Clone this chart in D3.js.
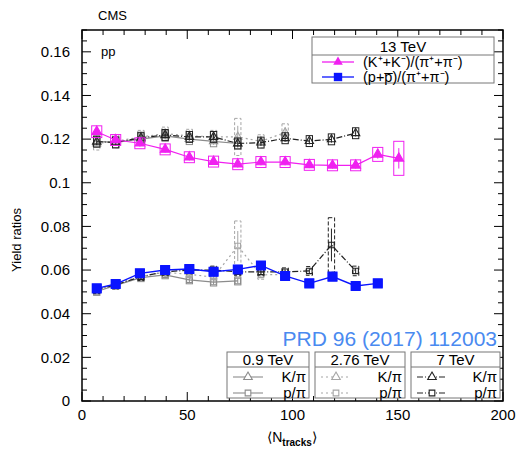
<!DOCTYPE html>
<html>
<head>
<meta charset="utf-8">
<script src="https://cdn.jsdelivr.net/npm/d3@7"></script>
<style>
  html, body { margin: 0; padding: 0; background: #fff; }
  svg { display: block; font-family: "Liberation Sans", Arial, sans-serif; }
</style>
</head>
<body>
<svg id="chart" width="520" height="450"></svg>
<script>
// ---- data -------------------------------------------------------------
// 13 TeV
const n13 = [7, 16, 27.5, 39.5, 51, 62.5, 74, 85, 96.5, 108, 119, 130, 140.5, 150.5];
const kpi13 = [0.1234, 0.1196, 0.1181, 0.1153, 0.1117, 0.1097, 0.1085, 0.1095, 0.1095, 0.1082, 0.1080, 0.1080, 0.1130, 0.1112];
const kpi13Sys = [0.0027, 0.0025, 0.0025, 0.0025, 0.0025, 0.0025, 0.0025, 0.0025, 0.0025, 0.0025, 0.0025, 0.0025, 0.0032, 0.0078];
const ppi13N = [7, 16, 27.5, 39.5, 51, 62.5, 74, 85, 96.5, 108, 119, 130, 140.5];
const ppi13 = [0.0516, 0.0536, 0.0585, 0.0600, 0.0605, 0.0592, 0.0603, 0.0621, 0.0573, 0.0539, 0.0570, 0.0527, 0.0539];

// 0.9 TeV
const n09 = [7, 16, 28, 39.5, 51, 62.5, 74];
const kpi09 = [0.1190, 0.1185, 0.1200, 0.1215, 0.1200, 0.1190, 0.1180];
const ppi09 = [0.0502, 0.0530, 0.0565, 0.0578, 0.0555, 0.0545, 0.0550];

// 2.76 TeV
const n276 = [7, 16, 28, 39.5, 51, 62.5, 74, 85, 96.5];
const kpi276 = [0.1180, 0.1190, 0.1210, 0.1225, 0.1215, 0.1210, 0.1210, 0.1190, 0.1230];
const kpi276Sys = [0.003, 0.003, 0.003, 0.003, 0.003, 0.003, 0.0085, 0.003, 0.004];
const ppi276 = [0.0510, 0.0538, 0.0572, 0.0590, 0.0580, 0.0568, 0.0710, 0.0578, 0.0580];
const ppi276Sys = [0.0018, 0.0018, 0.0018, 0.0018, 0.0018, 0.0018, 0.0115, 0.0020, 0.0020];

// 7 TeV
const n7 = [7, 16, 28, 39.5, 51, 62.5, 74, 85, 96.5, 108, 118.5, 130];
const kpi7 = [0.1188, 0.1185, 0.1206, 0.1219, 0.1210, 0.1210, 0.1180, 0.1184, 0.1204, 0.1191, 0.1199, 0.1227];
const ppi7 = [0.0510, 0.0532, 0.0570, 0.0592, 0.0600, 0.0600, 0.0592, 0.0592, 0.0592, 0.0596, 0.0715, 0.0596];
const ppi7Sys = [0.0018, 0.0018, 0.0018, 0.0018, 0.0018, 0.0018, 0.0018, 0.0018, 0.0018, 0.0020, 0.0125, 0.0022];

// axes
const xTicks = [0, 50, 100, 150, 200];
const yTicks = [0, 0.02, 0.04, 0.06, 0.08, 0.1, 0.12, 0.14, 0.16];

// ---- layout -----------------------------------------------------------
const svg = d3.select("#chart");
const pLeft = 82, pRight = 503, pTop = 30, pBottom = 401;
const x = d3.scaleLinear().domain([0, 200]).range([pLeft, pRight]);
const y = d3.scaleLinear().domain([0, 0.17]).range([pBottom, pTop]);

const zip = (ns, vs, sys) => ns.map((n, i) => ({ n, v: vs[i], s: sys ? sys[i] : 0.0025 }));

const plot = svg.append("g");

// draws one series: systematic boxes, connecting line, markers
function series(data, o) {
  const g = plot.append("g");
  const hw = o.boxHalfN;
  g.selectAll("rect.sys").data(data).join("rect")
    .attr("x", d => x(d.n - hw)).attr("width", d => x(d.n + hw) - x(d.n - hw))
    .attr("y", d => y(d.v + d.s)).attr("height", d => y(d.v - d.s) - y(d.v + d.s))
    .attr("fill", "none").attr("stroke", o.boxColor || o.color)
    .attr("stroke-width", 1).attr("stroke-dasharray", o.boxDash || null);
  g.selectAll("line.err").data(data).join("line")
    .attr("x1", d => x(d.n)).attr("x2", d => x(d.n))
    .attr("y1", d => y(d.v + d.s * 0.6)).attr("y2", d => y(d.v - d.s * 0.6))
    .attr("stroke", o.boxColor || o.color).attr("stroke-width", 1);
  g.append("path").datum(data)
    .attr("d", d3.line().x(d => x(d.n)).y(d => y(d.v)))
    .attr("fill", "none").attr("stroke", o.color)
    .attr("stroke-width", o.lineWidth || 1.2)
    .attr("stroke-dasharray", o.dash || null);
  const sym = d3.symbol().type(o.shape === "tri" ? d3.symbolTriangle : d3.symbolSquare).size(o.size);
  g.selectAll("path.m").data(data).join("path")
    .attr("transform", d => `translate(${x(d.n)},${y(d.v)})`)
    .attr("d", sym)
    .attr("fill", o.filled ? o.color : "none")
    .attr("stroke", o.color).attr("stroke-width", 1.1);
}

// lower energies (drawn first, underneath)
const grey09 = "#8c8c8c", grey276 = "#a6a6a6", black7 = "#222";
series(zip(n09, kpi09), { color: grey09, shape: "tri", size: 30, boxHalfN: 1.5 });
series(zip(n276, kpi276, kpi276Sys), { color: grey276, shape: "tri", size: 30, boxHalfN: 1.5, dash: "2,3", boxDash: "3,2" });
series(zip(n7, kpi7), { color: black7, shape: "tri", size: 30, boxHalfN: 1.5, dash: "6,2,1,2" });
series(zip(n09, ppi09, n09.map(() => 0.0018)), { color: grey09, shape: "sq", size: 30, boxHalfN: 1.5 });
series(zip(n276, ppi276, ppi276Sys), { color: grey276, shape: "sq", size: 30, boxHalfN: 1.5, dash: "2,3", boxDash: "3,2" });
series(zip(n7, ppi7, ppi7Sys), { color: black7, shape: "sq", size: 30, boxHalfN: 1.5, dash: "6,2,1,2", boxDash: "4,2" });

// 13 TeV on top
const magenta = "#f020f0", blue = "#0a14ff";
series(zip(n13, kpi13, kpi13Sys), { color: magenta, shape: "tri", size: 40, filled: true, boxHalfN: 2.4 });
series(zip(ppi13N, ppi13, ppi13N.map(() => 0.0018)), { color: blue, shape: "sq", size: 80, filled: true, boxHalfN: 2.0, lineWidth: 1.4 });

// ---- frame and ticks --------------------------------------------------
const axes = svg.append("g").attr("stroke", "#000");
axes.append("rect").attr("x", pLeft).attr("y", pTop).attr("width", pRight - pLeft).attr("height", pBottom - pTop)
  .attr("fill", "none").attr("stroke-width", 1.5);

const yMinor = d3.range(0, 0.1701, 0.005);
yMinor.forEach(v => {
  const major = Math.abs(Math.round(v / 0.02) * 0.02 - v) < 1e-6;
  const len = major ? 9 : 5;
  axes.append("line").attr("x1", pLeft).attr("x2", pLeft + len).attr("y1", y(v)).attr("y2", y(v)).attr("stroke-width", 1);
  axes.append("line").attr("x1", pRight).attr("x2", pRight - len).attr("y1", y(v)).attr("y2", y(v)).attr("stroke-width", 1);
});
d3.range(0, 201, 10).forEach(v => {
  const len = v % 50 === 0 ? 9 : 5;
  axes.append("line").attr("x1", x(v)).attr("x2", x(v)).attr("y1", pBottom).attr("y2", pBottom - len).attr("stroke-width", 1);
  axes.append("line").attr("x1", x(v)).attr("x2", x(v)).attr("y1", pTop).attr("y2", pTop + len).attr("stroke-width", 1);
});

const fmt = d3.format("~g");
svg.append("g").selectAll("text").data(yTicks).join("text")
  .attr("x", 70).attr("y", d => y(d)).attr("dy", "0.35em")
  .attr("text-anchor", "end").attr("font-size", 15).text(d => fmt(d));
svg.append("g").selectAll("text").data(xTicks).join("text")
  .attr("x", d => x(d)).attr("y", 420)
  .attr("text-anchor", "middle").attr("font-size", 15).text(d => d);

// axis titles
svg.append("text").attr("transform", `translate(21,240) rotate(-90)`)
  .attr("text-anchor", "middle").attr("font-size", 13).text("Yield ratios");
const xt = svg.append("text").attr("x", 292).attr("y", 442).attr("text-anchor", "middle").attr("font-size", 14);
xt.append("tspan").text("\u27e8N");
xt.append("tspan").attr("font-size", 10).attr("font-weight", "bold").attr("dy", 4).text("tracks");
xt.append("tspan").attr("dy", -4).text("\u27e9");

svg.append("text").attr("x", 98).attr("y", 20).attr("font-size", 13).text("CMS");
svg.append("text").attr("x", 101).attr("y", 56).attr("font-size", 13).text("pp");

// ---- 13 TeV legend ----------------------------------------------------
const lg = svg.append("g");
lg.append("rect").attr("x", 312).attr("y", 37).attr("width", 182).attr("height", 46)
  .attr("fill", "#fff").attr("stroke", "#777").attr("stroke-width", 1);
lg.append("line").attr("x1", 312).attr("x2", 494).attr("y1", 55).attr("y2", 55).attr("stroke", "#777");
lg.append("text").attr("x", 403).attr("y", 52).attr("text-anchor", "middle").attr("font-size", 15).text("13 TeV");
const legRows = [
  { c: magenta, shape: d3.symbolTriangle, size: 40, y: 62, label: "(K\u207a+K\u207b)/(\u03c0\u207a+\u03c0\u207b)" },
  { c: blue, shape: d3.symbolSquare, size: 70, y: 77, label: "(p+p\u0305)/(\u03c0\u207a+\u03c0\u207b)" }
];
legRows.forEach(r => {
  lg.append("line").attr("x1", 322).attr("x2", 354).attr("y1", r.y).attr("y2", r.y).attr("stroke", r.c).attr("stroke-width", 1.3);
  lg.append("path").attr("transform", `translate(338,${r.y})`).attr("d", d3.symbol().type(r.shape).size(r.size)()).attr("fill", r.c);
  lg.append("text").attr("x", 363).attr("y", r.y + 5).attr("font-size", 14.5).text(r.label);
});

// reference label
svg.append("text").attr("x", 497).attr("y", 346).attr("text-anchor", "end")
  .attr("font-size", 21).attr("fill", "#4a8af0").text("PRD 96 (2017) 112003");

// ---- lower-energy legends --------------------------------------------
const boxes = [
  { x0: 227, x1: 309, title: "0.9 TeV", c: grey09, dash: null },
  { x0: 315, x1: 405, title: "2.76 TeV", c: grey276, dash: "2,3" },
  { x0: 411, x1: 500, title: "7 TeV", c: black7, dash: "6,2,1,2" }
];
boxes.forEach(b => {
  const g = svg.append("g");
  g.append("rect").attr("x", b.x0).attr("y", 352).attr("width", b.x1 - b.x0).attr("height", 46)
    .attr("fill", "#fff").attr("stroke", "#777");
  g.append("line").attr("x1", b.x0).attr("x2", b.x1).attr("y1", 367).attr("y2", 367).attr("stroke", "#777");
  g.append("text").attr("x", (b.x0 + b.x1) / 2).attr("y", 364.5).attr("text-anchor", "middle").attr("font-size", 15).text(b.title);
  [{ yy: 377, s: d3.symbolTriangle, label: "K/\u03c0" }, { yy: 393, s: d3.symbolSquare, label: "p/\u03c0" }].forEach(r => {
    g.append("line").attr("x1", b.x0 + 6).attr("x2", b.x0 + 36).attr("y1", r.yy).attr("y2", r.yy)
      .attr("stroke", b.c).attr("stroke-width", 1.1).attr("stroke-dasharray", b.dash);
    g.append("path").attr("transform", `translate(${b.x0 + 21},${r.yy})`).attr("d", d3.symbol().type(r.s).size(32)())
      .attr("fill", "#fff").attr("stroke", b.c).attr("stroke-width", 1.1);
    g.append("text").attr("x", b.x1 - 3).attr("y", r.yy + 5).attr("text-anchor", "end").attr("font-size", 15).text(r.label);
  });
});
</script>
</body>
</html>
